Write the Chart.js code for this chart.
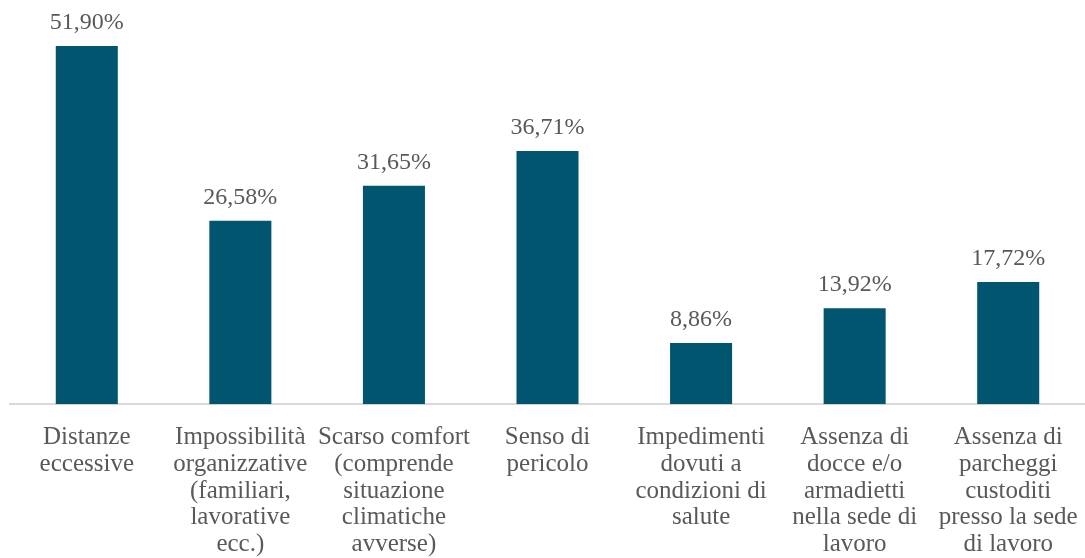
<!DOCTYPE html>
<html lang="it">
<head>
  <meta charset="UTF-8" />
  <title>Motivi</title>
  <script src="https://cdn.jsdelivr.net/npm/chart.js"></script>
  <style>
    body { margin: 0; background: #fff; }
    #wrap { width: 1085px; height: 558px; position: relative; }
  </style>
</head>
<body>
  <div id="wrap"><canvas id="chart"></canvas></div>

  <script>
    // dati
    const categorie = [
      ["Distanze", "eccessive"],
      ["Impossibilità", "organizzative", "(familiari,", "lavorative", "ecc.)"],
      ["Scarso comfort", "(comprende", "situazione", "climatiche", "avverse)"],
      ["Senso di", "pericolo"],
      ["Impedimenti", "dovuti a", "condizioni di", "salute"],
      ["Assenza di", "docce e/o", "armadietti", "nella sede di", "lavoro"],
      ["Assenza di", "parcheggi", "custoditi", "presso la sede", "di lavoro"]
    ];
    const percentuali = [51.90, 26.58, 31.65, 36.71, 8.86, 13.92, 17.72];

    const FONT = "'Liberation Serif', 'Times New Roman', serif";
    const GRIGIO = "#595959";

    // etichette sopra le barre
    const etichette = {
      id: "etichette",
      afterDatasetsDraw(chart) {
        const ctx = chart.ctx;
        const meta = chart.getDatasetMeta(0);
        ctx.save();
        ctx.font = "24px " + FONT;
        ctx.fillStyle = GRIGIO;
        ctx.textAlign = "center";
        ctx.textBaseline = "alphabetic";
        meta.data.forEach((bar, i) => {
          const txt = percentuali[i].toFixed(2).replace(".", ",") + "%";
          ctx.fillText(txt, bar.x, bar.y - 17);
        });
        ctx.restore();
      }
    };

    new Chart(document.getElementById("chart"), {
      type: "bar",
      data: {
        labels: categorie,
        datasets: [{
          data: percentuali,
          backgroundColor: "#02556F",
          barPercentage: 0.404,
          categoryPercentage: 1
        }]
      },
      options: {
        responsive: true,
        maintainAspectRatio: false,
        animation: false,
        layout: { padding: { top: 4, left: 10, right: 0, bottom: 0 } },
        plugins: {
          legend: { display: false },
          tooltip: { enabled: false }
        },
        scales: {
          x: {
            grid: { display: false, drawTicks: false },
            border: { display: true, color: "#d9d9d9", width: 2 },
            ticks: {
              color: GRIGIO,
              font: { family: FONT, size: 25, lineHeight: 1.07 },
              padding: 20,
              maxRotation: 0,
              autoSkip: false
            },
            afterFit(scale) {
              scale.paddingLeft = 0;
              scale.paddingRight = 0;
              scale.height -= 20;
            }
          },
          y: {
            display: false,
            min: 0,
            max: 58
          }
        }
      },
      plugins: [etichette]
    });
  </script>
</body>
</html>
